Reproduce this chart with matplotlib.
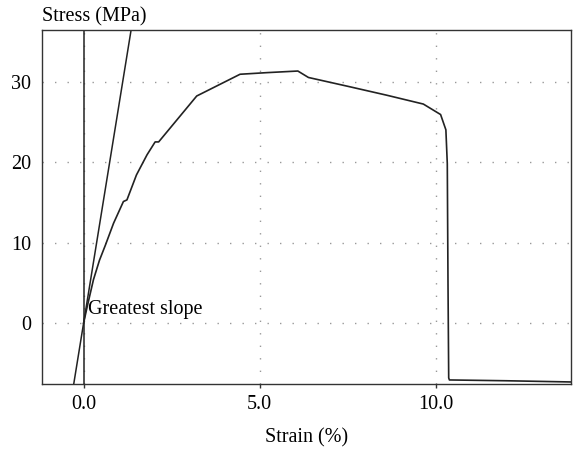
import numpy as np
import matplotlib
matplotlib.use('Agg')
import matplotlib.pyplot as plt

plt.rcParams['font.family'] = ['Liberation Serif', 'DejaVu Serif']

# stress-strain curve
strain = [0.0, 0.1, 0.28, 0.45, 0.62, 0.85, 1.13, 1.23, 1.5, 1.8, 2.03, 2.13,
          3.21, 4.44, 5.2, 6.08, 6.38, 7.5, 8.6, 9.64, 10.13, 10.28,
          10.32, 10.34, 10.36, 10.38, 12.0, 13.83]
stress = [0.0, 2.0, 5.4, 7.8, 9.7, 12.4, 15.1, 15.3, 18.4, 20.9, 22.5, 22.5,
          28.2, 30.9, 31.1, 31.3, 30.5, 29.4, 28.3, 27.2, 25.9, 24.0,
          19.8, 5.0, -6.8, -7.05, -7.15, -7.3]

slope_x = [-0.3, 1.4]
slope_k = 27.0

xticks = [0.0, 5.0, 10.0]
xtick_labels = ['0.0', '5.0', '10.0']
yticks = [0, 10, 20, 30]

fig = plt.figure(figsize=(5.73, 4.51), dpi=100)
ax = fig.add_axes([0.0733, 0.1486, 0.9232, 0.785])

ax.plot(strain, stress, color='#222222', lw=1.2)
ax.plot(slope_x, [slope_k * v for v in slope_x], color='#222222', lw=1.1)
ax.axvline(0, color='#222222', lw=1.1)

ax.set_xlim(-1.18, 13.83)
ax.set_ylim(-7.55, 36.4)
ax.set_xticks(xticks)
ax.set_xticklabels(xtick_labels)
ax.set_yticks(yticks)
ax.grid(True, color='#999999', linestyle=(0, (1, 8)), lw=1.0)
ax.tick_params(axis='x', length=3, width=1, color='#333333', labelsize=14.5, pad=5)
ax.tick_params(axis='y', length=0, labelsize=14.5, pad=8)
for s in ax.spines.values():
    s.set_color('#333333')
    s.set_linewidth(1.0)

ax.text(0.13, 1.15, 'Greatest slope', fontsize=14.5, ha='left', va='baseline')
fig.text(42 / 573, 1 - 17 / 451, 'Stress (MPa)', fontsize=14.5, ha='left', va='center')
ax.set_xlabel('Strain (%)', fontsize=14.5, labelpad=10)

fig.savefig('out.png', dpi=100)
